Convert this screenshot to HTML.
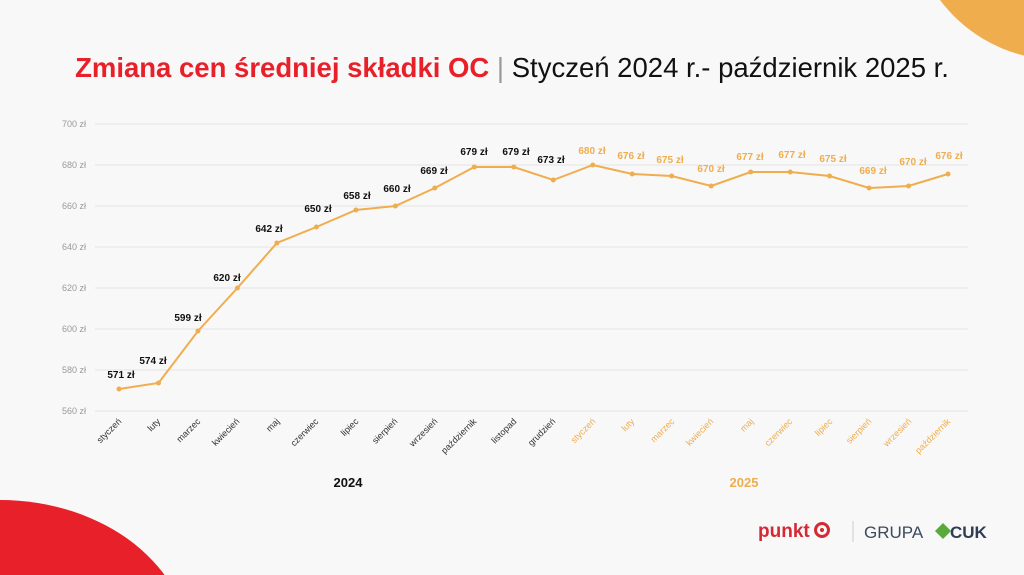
<!DOCTYPE html>
<html><head><meta charset="utf-8"><style>
html,body{margin:0;width:1024px;height:575px;overflow:hidden;background:#f8f8f8;}
svg{display:block;font-family:"Liberation Sans",sans-serif;}
</style></head><body>
<svg width="1024" height="575" viewBox="0 0 1024 575" xmlns="http://www.w3.org/2000/svg">
<rect width="1024" height="575" fill="#f8f8f8"/>
<circle cx="1060" cy="-90" r="150" fill="#f0ad4e"/>
<ellipse cx="0" cy="650" rx="190" ry="150" fill="#e8202a"/>
<text x="512" y="77" text-anchor="middle" font-size="27.5"><tspan fill="#e8202a" font-weight="bold">Zmiana cen średniej składki OC</tspan><tspan fill="#999"> | </tspan><tspan fill="#111">Styczeń 2024 r.- październik 2025 r.</tspan></text>
<g stroke="#e4e4e4" stroke-width="1">
<line x1="95" x2="968" y1="124" y2="124"/><line x1="95" x2="968" y1="165" y2="165"/><line x1="95" x2="968" y1="206" y2="206"/><line x1="95" x2="968" y1="247" y2="247"/><line x1="95" x2="968" y1="288" y2="288"/><line x1="95" x2="968" y1="329" y2="329"/><line x1="95" x2="968" y1="370" y2="370"/><line x1="95" x2="968" y1="411" y2="411"/>
</g>
<g font-size="9" fill="#999" text-anchor="end">
<text x="86" y="127">700 zł</text><text x="86" y="168">680 zł</text><text x="86" y="209">660 zł</text><text x="86" y="250">640 zł</text><text x="86" y="291">620 zł</text><text x="86" y="332">600 zł</text><text x="86" y="373">580 zł</text><text x="86" y="414">560 zł</text>
</g>
<polyline fill="none" stroke="#f0ad4e" stroke-width="2" points="119,389 158.5,383 198,331 237.4,288 276.9,243 316.4,227 355.9,210 395.4,206 434.8,188 474.3,167 513.8,167 553.3,180 592.8,165 632.2,174 671.7,176 711.2,186 750.7,172 790.2,172 829.6,176 869.1,188 908.6,186 948,174"/>
<g fill="#f0ad4e">
<circle cx="119" cy="389" r="2.5"/><circle cx="158.5" cy="383" r="2.5"/><circle cx="198" cy="331" r="2.5"/><circle cx="237.4" cy="288" r="2.5"/><circle cx="276.9" cy="243" r="2.5"/><circle cx="316.4" cy="227" r="2.5"/><circle cx="355.9" cy="210" r="2.5"/><circle cx="395.4" cy="206" r="2.5"/><circle cx="434.8" cy="188" r="2.5"/><circle cx="474.3" cy="167" r="2.5"/><circle cx="513.8" cy="167" r="2.5"/><circle cx="553.3" cy="180" r="2.5"/><circle cx="592.8" cy="165" r="2.5"/><circle cx="632.2" cy="174" r="2.5"/><circle cx="671.7" cy="176" r="2.5"/><circle cx="711.2" cy="186" r="2.5"/><circle cx="750.7" cy="172" r="2.5"/><circle cx="790.2" cy="172" r="2.5"/><circle cx="829.6" cy="176" r="2.5"/><circle cx="869.1" cy="188" r="2.5"/><circle cx="908.6" cy="186" r="2.5"/><circle cx="948" cy="174" r="2.5"/>
</g>
<g font-size="10" font-weight="bold" fill="#111" text-anchor="middle">
<text x="121" y="378">571 zł</text><text x="153" y="364">574 zł</text><text x="188" y="321">599 zł</text><text x="227" y="281">620 zł</text><text x="269" y="232">642 zł</text><text x="318" y="212">650 zł</text><text x="357" y="199">658 zł</text><text x="397" y="192">660 zł</text><text x="434" y="174">669 zł</text><text x="474" y="155">679 zł</text><text x="516" y="155">679 zł</text><text x="551" y="163">673 zł</text>
</g>
<g font-size="10" font-weight="bold" fill="#f0ad4e" text-anchor="middle">
<text x="592" y="154">680 zł</text><text x="631" y="159">676 zł</text><text x="670" y="163">675 zł</text><text x="711" y="172">670 zł</text><text x="750" y="160">677 zł</text><text x="792" y="158">677 zł</text><text x="833" y="162">675 zł</text><text x="873" y="174">669 zł</text><text x="913" y="165">670 zł</text><text x="949" y="159">676 zł</text>
</g>
<g font-size="9" fill="#333" text-anchor="end">
<text transform="translate(122,422) rotate(-45)">styczeń</text><text transform="translate(161,422) rotate(-45)">luty</text><text transform="translate(201,422) rotate(-45)">marzec</text><text transform="translate(240,422) rotate(-45)">kwiecień</text><text transform="translate(280,422) rotate(-45)">maj</text><text transform="translate(319,422) rotate(-45)">czerwiec</text><text transform="translate(359,422) rotate(-45)">lipiec</text><text transform="translate(398,422) rotate(-45)">sierpień</text><text transform="translate(438,422) rotate(-45)">wrzesień</text><text transform="translate(477,422) rotate(-45)">październik</text><text transform="translate(517,422) rotate(-45)">listopad</text><text transform="translate(556,422) rotate(-45)">grudzień</text>
</g>
<g font-size="9" fill="#f0ad4e" text-anchor="end">
<text transform="translate(596,422) rotate(-45)">styczeń</text><text transform="translate(635,422) rotate(-45)">luty</text><text transform="translate(675,422) rotate(-45)">marzec</text><text transform="translate(714,422) rotate(-45)">kwiecień</text><text transform="translate(754,422) rotate(-45)">maj</text><text transform="translate(793,422) rotate(-45)">czerwiec</text><text transform="translate(833,422) rotate(-45)">lipiec</text><text transform="translate(872,422) rotate(-45)">sierpień</text><text transform="translate(912,422) rotate(-45)">wrzesień</text><text transform="translate(951,422) rotate(-45)">październik</text>
</g>
<text x="348" y="487" font-size="13" font-weight="bold" fill="#111" text-anchor="middle">2024</text>
<text x="744" y="487" font-size="13" font-weight="bold" fill="#f0ad4e" text-anchor="middle">2025</text>
<text x="758" y="537" font-size="19" font-weight="bold" fill="#d42a35">punkt</text>
<circle cx="822" cy="530" r="6.5" fill="none" stroke="#d42a35" stroke-width="3"/><circle cx="822" cy="530" r="2" fill="#d42a35"/>
<line x1="853" y1="521" x2="853" y2="542" stroke="#ccc"/>
<text x="864" y="538" font-size="17" fill="#3b4a5e">GRUPA</text>
<path d="M935 531 l8 -8 l8 8 l-8 8z" fill="#5aaa3a"/>
<text x="950" y="538" font-size="17" font-weight="bold" fill="#2f3e55">CUK</text>
</svg>
</body></html>
